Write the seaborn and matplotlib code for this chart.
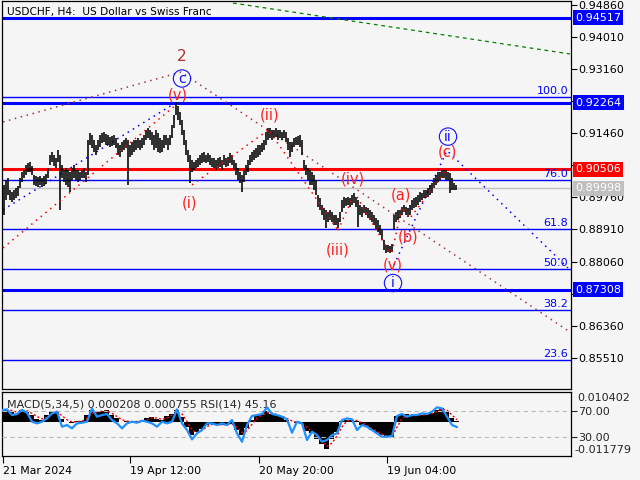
import numpy as np
import matplotlib
matplotlib.use("Agg")
import matplotlib.pyplot as plt
import seaborn as sns

# --- price bars (every second H4 bar) ---
bar_high = [
    .9022, .9009, .9022, .9027, .8996, .8990, .8996, .9001, .9006, .9027,
    .9043, .9049, .9062, .9067, .9070, .9059, .9035, .9033, .9030, .9033,
    .9027, .9033, .9038, .9054, .9088, .9096, .9088, .9080, .9102, .9088,
    .9062, .9049, .9054, .9049, .9043, .9054, .9062, .9049, .9049, .9043,
    .9049, .9054, .9043, .9128, .9147, .9141, .9128, .9115, .9128, .9141,
    .9147, .9149, .9144, .9141, .9136, .9139, .9141, .9133, .9120, .9115,
    .9123, .9128, .9133, .9128, .9115, .9123, .9128, .9128, .9133, .9128,
    .9133, .9141, .9154, .9160, .9154, .9149, .9141, .9154, .9147, .9133,
    .9128, .9141, .9141, .9133, .9141, .9168, .9194, .9229, .9218, .9202,
    .9181, .9154, .9128, .9102, .9088, .9075, .9070, .9075, .9080, .9088,
    .9094, .9096, .9088, .9094, .9088, .9080, .9080, .9075, .9080, .9083,
    .9075, .9088, .9080, .9083, .9094, .9088, .9075, .9067, .9054, .9043,
    .9035, .9049, .9062, .9075, .9088, .9096, .9102, .9107, .9115, .9115,
    .9120, .9128, .9149, .9160, .9160, .9154, .9154, .9160, .9154, .9154,
    .9149, .9154, .9149, .9133, .9123, .9123, .9133, .9136, .9139, .9141,
    .9128, .9075, .9062, .9054, .9049, .9043, .9035, .9022, .8982, .8974,
    .8956, .8948, .8943, .8937, .8943, .8937, .8929, .8929, .8921, .8937,
    .8969, .8977, .8974, .8977, .8974, .8982, .8988, .8977, .8969, .8956,
    .8950, .8956, .8950, .8948, .8943, .8937, .8929, .8921, .8916, .8903,
    .8889, .8863, .8850, .8850, .8847, .8852, .8929, .8937, .8943, .8943,
    .8950, .8956, .8950, .8948, .8956, .8969, .8974, .8977, .8982, .8990,
    .8988, .8996, .8996, .9001, .9009, .9014, .9027, .9035, .9043, .9043,
    .9049, .9049, .9049, .9043, .9041, .9027, .9014, .9009,
]
bar_low = [
    .8844, .8929, .8969, .8982, .8969, .8964, .8969, .8974, .8980, .9001,
    .9017, .9027, .9035, .9043, .9043, .9035, .9009, .9006, .9003, .9009,
    .9003, .9006, .9011, .9027, .9062, .9070, .9059, .9054, .9070, .8943,
    .9027, .9017, .9009, .9003, .8990, .9022, .9027, .9022, .9017, .9022,
    .9027, .9027, .9017, .9035, .9115, .9107, .9096, .9088, .9102, .9109,
    .9120, .9123, .9115, .9115, .9109, .9112, .9115, .9107, .9088, .9083,
    .9096, .9102, .9107, .9009, .9083, .9088, .9096, .9102, .9107, .9102,
    .9107, .9115, .9128, .9133, .9128, .9115, .9102, .9107, .9096, .9094,
    .9096, .9107, .9115, .9102, .9115, .9133, .9160, .9194, .9181, .9168,
    .9141, .9115, .9088, .9070, .9014, .9043, .9049, .9054, .9056, .9062,
    .9067, .9070, .9067, .9070, .9062, .9056, .9054, .9049, .9054, .9056,
    .9049, .9062, .9056, .9059, .9067, .9062, .9049, .9035, .9022, .9014,
    .8990, .9017, .9035, .9043, .9062, .9070, .9075, .9080, .9083, .9088,
    .9096, .9102, .9115, .9128, .9133, .9128, .9133, .9136, .9128, .9133,
    .9128, .9133, .9123, .9102, .9083, .9096, .9109, .9115, .9115, .9109,
    .9088, .9049, .9035, .9022, .9009, .9009, .8996, .8982, .8950, .8943,
    .8929, .8916, .8895, .8911, .8916, .8911, .8903, .8903, .8895, .8911,
    .8937, .8948, .8953, .8956, .8950, .8956, .8961, .8950, .8897, .8929,
    .8924, .8935, .8929, .8921, .8916, .8911, .8903, .8889, .8884, .8876,
    .8863, .8837, .8829, .8831, .8829, .8831, .8889, .8911, .8916, .8921,
    .8929, .8937, .8929, .8924, .8929, .8943, .8948, .8950, .8956, .8964,
    .8969, .8974, .8974, .8977, .8982, .8988, .9001, .9009, .9017, .9022,
    .9027, .9027, .9022, .9022, .8988, .8996, .8996, .8996,
]

# --- indicator window (every fifth bar) ---
macd_e3 = [
    4.3, 4.3, 3.5, 2.9, 4.3, 3.8, 2.3, 1.2, 0.8, 2.3,
    3.5, 3.5, 1.2, 0.0, -0.3, 0.3, 0.3, 2.3, 4.0, 3.5,
    3.8, 4.0, 2.3, 1.5, 0.0, 0.3, 0.0, 0.3, 0.0, 1.5,
    1.7, 1.2, 0.6, 2.0, 2.9, 4.3, 1.7, -1.7, -4.6, -3.5,
    -2.3, -0.9, -0.6, -0.9, -1.2, -0.6, -0.6, -2.9, -4.6, -2.0,
    0.8, 2.3, 2.7, 3.8, 2.7, 2.3, 1.7, 0.8, 0.0, -0.2,
    -0.6, -3.1, -3.8, -5.8, -7.5, -9.5, -5.8, -3.5, 0.3, 0.8,
    0.8, 0.3, -0.9, -1.7, -2.9, -3.8, -4.6, -5.2, -5.2, 2.0,
    2.3, 2.7, 2.3, 2.7, 2.3, 2.9, 3.1, 4.3, 5.0, 3.5,
    1.5, 0.2,
]
signal_e3 = [
    4.0, 4.2, 4.0, 3.4, 3.6, 3.9, 3.0, 1.9, 1.1, 1.6,
    2.8, 3.4, 2.2, 0.8, 0.0, 0.1, 0.3, 1.2, 3.0, 3.6,
    3.7, 3.9, 3.0, 1.9, 0.8, 0.3, 0.1, 0.2, 0.1, 0.8,
    1.5, 1.4, 0.9, 1.4, 2.4, 3.5, 2.8, 0.2, -2.8, -3.8,
    -2.9, -1.6, -0.8, -0.8, -1.0, -0.9, -0.7, -1.8, -3.6, -3.0,
    -0.8, 1.4, 2.4, 3.2, 3.1, 2.5, 2.0, 1.2, 0.4, -0.1,
    -0.4, -1.9, -3.3, -4.8, -6.6, -8.4, -7.3, -4.8, -1.7, 0.4,
    0.7, 0.5, -0.3, -1.2, -2.3, -3.3, -4.2, -4.9, -5.1, -1.8,
    1.2, 2.3, 2.4, 2.5, 2.4, 2.6, 2.9, 3.6, 4.5, 4.1,
    2.4, 0.8,
]
rsi = [
    71.8, 72.9, 64.0, 65.6, 72.0, 67.7, 53.6, 51.0, 53.6, 58.8,
    66.6, 69.2, 45.8, 48.4, 43.2, 51.0, 52.0, 53.6, 74.4, 61.4,
    64.0, 65.6, 56.2, 51.0, 43.2, 51.0, 53.6, 52.0, 55.2, 53.6,
    51.0, 45.8, 53.6, 51.0, 53.6, 72.9, 51.0, 40.6, 26.0, 35.4,
    40.6, 51.0, 51.0, 48.4, 51.0, 48.4, 56.2, 35.4, 22.3, 48.4,
    62.5, 64.0, 65.6, 76.0, 65.6, 64.0, 61.4, 57.3, 36.4, 53.6,
    51.0, 25.0, 38.0, 32.8, 22.3, 25.0, 32.8, 35.4, 56.2, 58.8,
    57.3, 40.6, 48.4, 45.8, 40.6, 35.4, 30.2, 30.2, 31.2, 62.5,
    65.6, 61.4, 64.0, 64.0, 66.6, 65.6, 69.2, 76.0, 74.4, 61.4,
    48.4, 45.2,
]

# horizontal levels
level_prices = [0.94517, 0.92264, 0.90506, 0.89998, 0.87308]
level_colors = ["#0000FF", "#0000FF", "#FF0000", "#C0C0C0", "#0000FF"]
fib_high, fib_low = 0.9241, 0.83287
fib_pcts = [100.0, 76.0, 61.8, 50.0, 38.2, 23.6]
price_ticks = [0.94860, 0.94010, 0.93160, 0.92310, 0.91460, 0.90610,
               0.89760, 0.88910, 0.88060, 0.87210, 0.86360, 0.85510]
hidden_ticks = [0.92310, 0.90610, 0.87210]   # covered by the price boxes
date_ticks = [3, 130, 259, 387]
date_labels = ["21 Mar 2024", "19 Apr 12:00", "20 May 20:00", "19 Jun 04:00"]

# wave connector lines (bar, price)
green_line = ([233, 570], [0.9491, 0.9356])
brown_line = ([3, 181, 570], [0.9176, 0.9308, 0.8619])
blue_lines = [([3, 177], [0.8943, 0.9229]),
              ([394, 447, 568], [0.8797, 0.9100, 0.8789])]
red_lines = [([3, 176], [0.8842, 0.9221]),
             ([192, 268], [0.9009, 0.9154]),
             ([270, 338], [0.9149, 0.8889]),
             ([338, 353], [0.8889, 0.8977]),
             ([357, 390], [0.8977, 0.8829]),
             ([392, 402, 410, 445], [0.8831, 0.8950, 0.8921, 0.9043])]

red_labels = [("(v)", 178, 0.9247), ("(ii)", 270, 0.9194), ("(i)", 190, 0.8962),
              ("(iii)", 338, 0.8837), ("(iv)", 353, 0.9025), ("(a)", 401, 0.8983),
              ("(b)", 408, 0.8871), ("(v)", 393, 0.8797), ("(c)", 447, 0.9095)]
circle_labels = [("c", 182, 0.9291), ("i", 393, 0.8749), ("ii", 448, 0.9137)]

BG = "#F5F5F5"
sns.set_theme(style="white", rc={"axes.facecolor": BG, "figure.facecolor": BG})
plt.rcParams["font.family"] = ["DejaVu Sans"]

fig = plt.figure(figsize=(6.4, 4.8), dpi=100)
ax = fig.add_axes([2 / 640, 1 - 389 / 480, 569 / 640, 388 / 480])
ind = fig.add_axes([2 / 640, 1 - 456 / 480, 569 / 640, 64 / 480])

bar_x = np.arange(len(bar_high)) * 2 + 2
ind_x = np.arange(len(rsi)) * 5 + 2

ax.set_xlim(2, 571)
ax.set_ylim(0.84681, 0.94964)

# horizontal levels
for pr, col in zip(level_prices, level_colors):
    lw = 1.0 if col == "#C0C0C0" else 2.2
    ax.axhline(pr, color=col, lw=lw, zorder=1)
for pct in fib_pcts:
    lvl = fib_low + pct / 100 * (fib_high - fib_low)
    ax.axhline(lvl, color="#0000FF", lw=1.0, zorder=1)
    ax.text(568, lvl + 0.0003, f"{pct:.1f}", color="#0000FF", fontsize=8,
            ha="right", va="bottom")

# dotted wave lines
dots = (0, (1, 3))
ax.plot(*green_line, color="#008000", ls=(0, (3, 3)), lw=0.9, zorder=2)
ax.plot(*brown_line, color="#A03A3A", ls=dots, lw=1.1, zorder=2)
for xs, ys in blue_lines:
    ax.plot(xs, ys, color="#0000FF", ls=dots, lw=1.1, zorder=2)
for xs, ys in red_lines:
    ax.plot(xs, ys, color="#FF0000", ls=dots, lw=1.1, zorder=4)

# price bars
ax.vlines(bar_x, bar_low, bar_high, color="black", lw=1.15, zorder=3)

# wave labels
ax.text(182, 0.9349, "2", color="#B03030", fontsize=11, ha="center", va="center")
for txt, xb, pr in red_labels:
    ax.text(xb, pr, txt, color="#FF2020", fontsize=10.5, ha="center", va="center", zorder=5)
for txt, xb, pr in circle_labels:
    ax.text(xb, pr, txt, color="#1010FF", fontsize=10, ha="center", va="center", zorder=5,
            bbox=dict(boxstyle="circle,pad=0.12", fc="none", ec="#1010FF", lw=0.8))

# axes styling
for a in (ax, ind):
    for s in a.spines.values():
        s.set_color("black")
        s.set_linewidth(0.9)
ax.set_xticks([])
ax.yaxis.tick_right()
ax.set_yticks(price_ticks)
ax.set_yticklabels(["" if t in hidden_ticks else f"{t:.5f}" for t in price_ticks])
ax.tick_params(axis="y", direction="out", length=4, width=0.8, labelsize=8,
               pad=1, colors="black", right=True)
ax.set_xlabel("")
ax.set_ylabel("")

# coloured price boxes on the right scale (drawn on the figure, above tick labels)
trans = ax.get_yaxis_transform()
for pr, col in zip(level_prices, level_colors):
    fig.text(1 + 4 / 569, pr, f"{pr:.5f}", transform=trans, color="white", fontsize=8,
             ha="left", va="center", zorder=6,
             bbox=dict(boxstyle="square,pad=0.22", fc=col, ec="none"))

fig.text(7 / 640, 1 - 12 / 480, "USDCHF, H4:  US Dollar vs Swiss Franc",
         fontsize=7.6, color="black", va="center", ha="left")

# indicator window: MACD histogram + signal, RSI on twin
ind.set_xlim(2, 571)
ind.set_ylim(-0.011779, 0.010402)
ind.bar(ind_x, np.array(macd_e3) * 1e-3, width=5, color="black", lw=0, zorder=2)
sns.lineplot(x=ind_x, y=np.array(signal_e3) * 1e-3, ax=ind, color="#FF0000",
             lw=1.0, ls=(0, (1.5, 1.5)), zorder=3)
ind.set_yticks([])
ind.set_xticks(date_ticks)
ind.set_xticklabels(date_labels, ha="left")
ind.tick_params(axis="x", direction="out", length=5, width=0.8, labelsize=7.8,
                pad=2, colors="black", bottom=True)

tw = ind.twinx()
tw.set_ylim(0, 100)
tw.axhline(70, color="#BBBBBB", ls=(0, (4, 3)), lw=0.8)
tw.axhline(30, color="#BBBBBB", ls=(0, (4, 3)), lw=0.8)
sns.lineplot(x=ind_x, y=rsi, ax=tw, color="#1E90FF", lw=1.6, zorder=4)
tw.set_yticks([70, 30])
tw.set_yticklabels(["70.00", "30.00"])
tw.tick_params(axis="y", direction="out", length=4, width=0.8, labelsize=8, pad=1)
tw.set_ylabel("")
for s in tw.spines.values():
    s.set_visible(False)

ind.text(1 + 6 / 569, 0.91, "0.010402", transform=ind.transAxes, fontsize=8,
         ha="left", va="center", clip_on=False)
ind.text(1 + 3 / 569, 0.10, "-0.011779", transform=ind.transAxes, fontsize=8,
         ha="left", va="center", clip_on=False)
ind.text(5 / 569, 0.80, "MACD(5,34,5) 0.000208 0.000755 RSI(14) 45.16",
         transform=ind.transAxes, fontsize=8, ha="left", va="center", zorder=6)
ind.set_xlabel("")
ind.set_ylabel("")

fig.savefig("out.png", dpi=100, facecolor=BG)
